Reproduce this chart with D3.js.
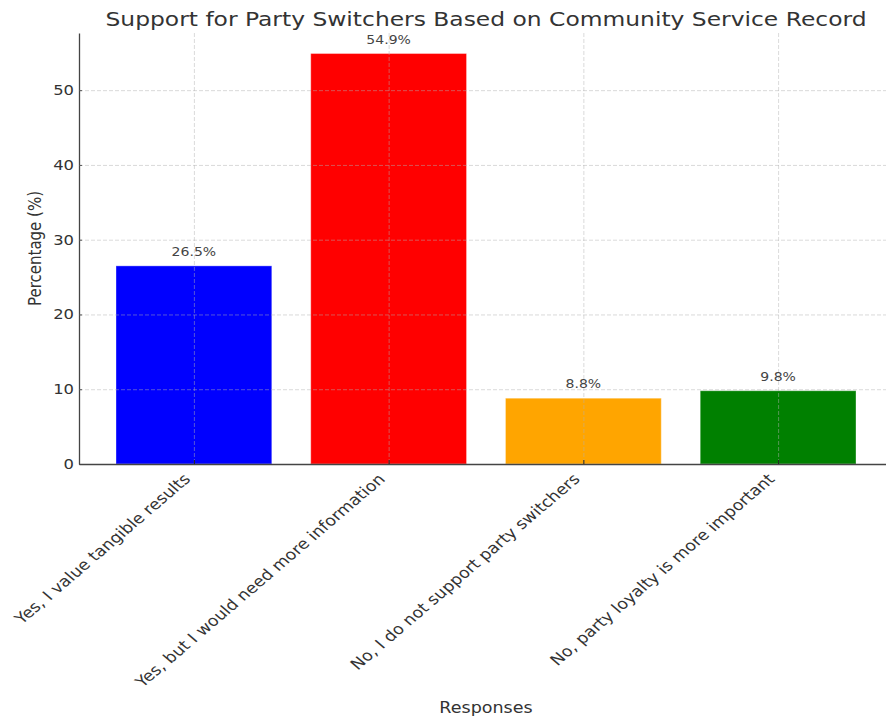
<!DOCTYPE html>
<html>
  <head>
    <meta charset="utf-8">
    <title>Support for Party Switchers</title>
    <script src="https://cdn.jsdelivr.net/npm/d3@7"></script>
    <style>
      body { margin: 0; background: #fff; }
      svg { display: block; }
      svg text { font-family: "DejaVu Sans", sans-serif !important; }
      .grid line { stroke: #b0b0b0; stroke-dasharray: 4,2; stroke-width: 0.8; opacity: 0.6; }
      .grid .domain { display: none; }
    </style>
  </head>
  <body>
    <script>
    const responses = [
      "Yes, I value tangible results",
      "Yes, but I would need more information",
      "No, I do not support party switchers",
      "No, party loyalty is more important"
    ];
    const percentages = [26.5, 54.9, 8.8, 9.8];
    const barColors = ["blue", "red", "orange", "green"];
    const yTicks = [0, 10, 20, 30, 40, 50];

    const W = 886, H = 718;
    const margin = {top: 33, right: -7, left: 79, bottom: 254};
    const width = W - margin.left - margin.right,
          height = H - margin.top - margin.bottom;
    // the reference image is stretched sideways, so text is too
    const k = 1.17;

    const svg = d3.select("body").append("svg")
      .attr("width", W)
      .attr("height", H);

    const g = svg.append("g")
      .attr("transform", "translate(" + margin.left + "," + margin.top + ")");

    // matplotlib style: bar width 0.8, x margins 5%
    const lo = -0.4 - 0.19, hi = responses.length - 1 + 0.4 + 0.19;
    const x = d3.scaleLinear().domain([lo, hi]).range([0, width]);
    const y = d3.scaleLinear().domain([0, d3.max(percentages) * 1.05]).range([height, 0]);
    const bw = x(0.8) - x(0);

    g.selectAll(".bar")
      .data(percentages).enter()
      .append("rect")
      .attr("class", "bar")
      .attr("x", (d, i) => x(i - 0.4))
      .attr("y", d => y(d))
      .attr("width", bw)
      .attr("height", d => height - y(d))
      .attr("fill", (d, i) => barColors[i])
      .attr("stroke", "rgba(255,255,255,0.35)")
      .attr("stroke-width", 1);

    // grid drawn on top, like the reference
    g.append("g").attr("class", "grid")
      .call(d3.axisLeft(y).tickValues(yTicks).tickSize(-width).tickFormat(""));
    g.append("g").attr("class", "grid")
      .call(d3.axisBottom(x).tickValues(d3.range(responses.length)).tickSize(height).tickSizeOuter(0).tickFormat(""));

    // value labels
    g.selectAll(".val")
      .data(percentages).enter()
      .append("text")
      .attr("transform", (d, i) => "translate(" + x(i) + "," + (y(d) - 10) + ") scale(" + k + ",1)")
      .attr("text-anchor", "middle")
      .attr("font-size", "12px")
      .attr("fill", "#444")
      .text(d => d.toFixed(1) + "%");

    // axes (ticks point inward)
    const yAxis = g.append("g")
      .call(d3.axisLeft(y).tickValues(yTicks).tickSize(-3).tickSizeOuter(0));
    yAxis.selectAll("text")
      .attr("font-size", "14px")
      .attr("fill", "#333")
      .attr("x", 0)
      .attr("transform", "translate(-5,0) scale(" + k + ",1)");
    yAxis.selectAll("line").attr("stroke", "#555");
    yAxis.select(".domain").attr("stroke", "#444").attr("stroke-width", 1.3);

    const xAxis = g.append("g")
      .attr("transform", "translate(0," + height + ")")
      .call(d3.axisBottom(x).tickValues(d3.range(responses.length)).tickSize(-4).tickSizeOuter(0)
        .tickFormat(i => responses[i]));
    xAxis.select(".domain").attr("stroke", "#444").attr("stroke-width", 1.3);
    xAxis.selectAll("line").attr("stroke", "#222");
    xAxis.selectAll("text")
      .attr("font-size", "15px")
      .attr("fill", "#333")
      .attr("text-anchor", "end")
      .attr("dx", 0)
      .attr("dy", 0)
      .attr("y", 0)
      .attr("transform", "translate(-3,16) scale(" + k + ",1) rotate(-45)");

    // title and axis labels
    const cx = margin.left + (x(hi) + x(lo)) / 2;
    svg.append("text")
      .attr("transform", "translate(" + cx + ",26) scale(" + k + ",1)")
      .attr("text-anchor", "middle")
      .attr("font-size", "20px")
      .attr("fill", "#333")
      .text("Support for Party Switchers Based on Community Service Record");

    svg.append("text")
      .attr("transform", "translate(41," + (margin.top + height / 2) + ") scale(" + k + ",1) rotate(-90)")
      .attr("text-anchor", "middle")
      .attr("font-size", "15px")
      .attr("fill", "#333")
      .text("Percentage (%)");

    svg.append("text")
      .attr("transform", "translate(" + cx + ",713) scale(" + k + ",1)")
      .attr("text-anchor", "middle")
      .attr("font-size", "15px")
      .attr("fill", "#333")
      .text("Responses");
    </script>
  </body>
</html>
